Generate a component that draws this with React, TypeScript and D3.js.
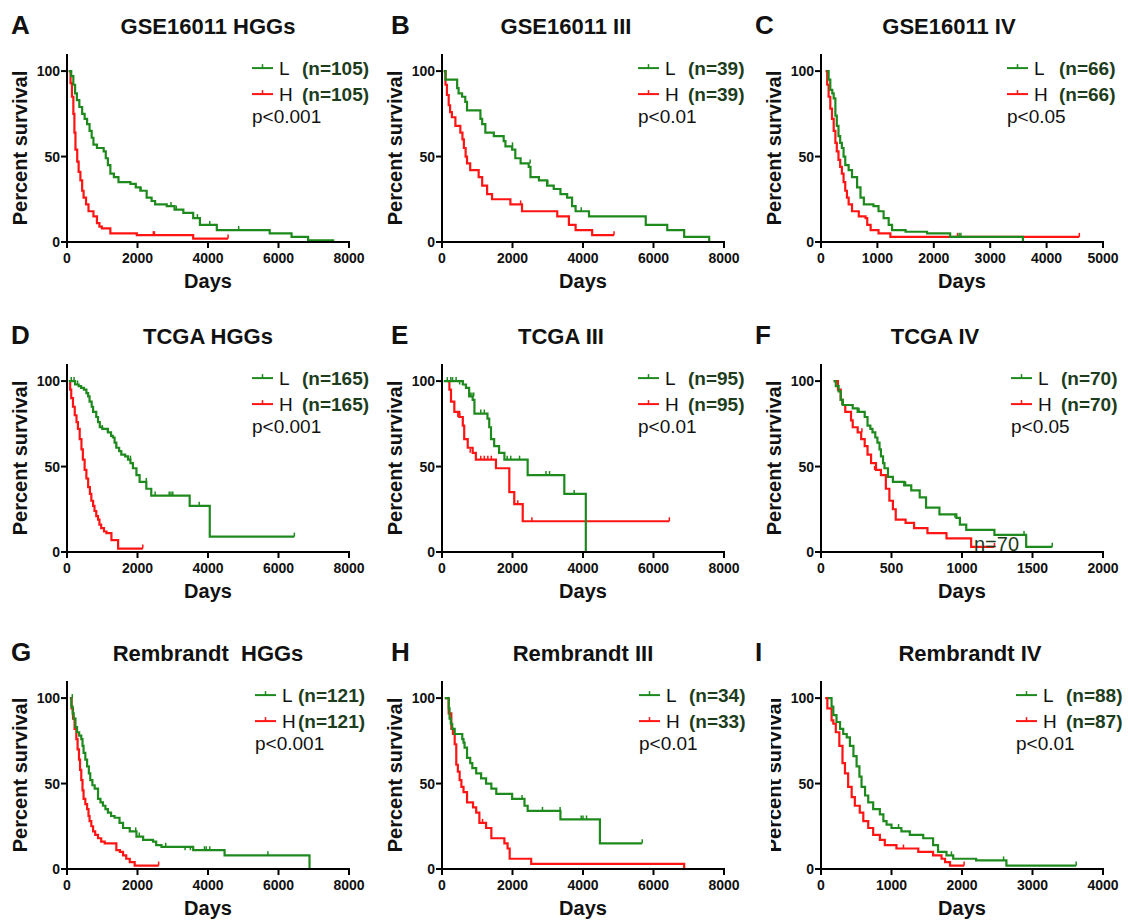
import * as d3 from "d3";

const FONT = "'Liberation Sans', Arial, Helvetica, sans-serif";
const GREEN = "#1e8a1e";
const RED = "#ff1414";
const NCOLOR = "#1d3d1d";

// ---- survival curves: [day, percent survival from that day on] ----
const gseHggLow = [[50,100],[120,97],[180,92],[230,87],[280,83],[350,79],[430,75],[500,72],[570,69],[640,65],[700,61],[750,57],[850,55],[1040,53],[1100,49],[1160,45],[1230,40],[1330,38],[1460,35],[1800,34],[1950,32],[2080,30],[2260,26],[2400,24],[2500,22],[2830,21],[3050,19],[3300,17],[3580,14],[3770,10],[4250,7],[5750,5],[6370,3],[6840,1],[7550,0]];
const gseHggHigh = [[50,100],[100,93],[140,85],[180,75],[210,64],[240,54],[290,47],[330,41],[380,36],[430,30],[470,26],[540,22],[610,18],[750,15],[850,11],[920,9],[990,8],[1230,5],[1980,4],[3580,2],[4570,2]];
const gseHggLowCens = [[1950,32],[2100,30],[2950,21],[3100,19],[3700,14],[4050,10],[4870,7]];
const gseHggHighCens = [[2450,4],[2480,4],[4570,2]];

const gse3Low = [[50,100],[100,95],[430,90],[470,87],[570,85],[660,82],[710,77],[1090,72],[1140,69],[1230,64],[1470,62],[1750,59],[1800,56],[1990,54],[2080,49],[2230,46],[2460,44],[2510,38],[2750,36],[2980,33],[3170,31],[3360,28],[3550,26],[3690,21],[3790,18],[4170,15],[5780,10],[6390,7],[6870,3],[7580,0]];
const gse3High = [[50,100],[100,92],[140,86],[190,80],[230,76],[280,73],[380,68],[520,64],[580,60],[620,55],[670,50],[710,46],[800,42],[1040,38],[1140,33],[1280,28],[1420,25],[1940,22],[2270,18],[3270,15],[3600,10],[3790,7],[4260,4],[4880,4]];
const gse3LowCens = [[2000,56],[2500,46],[3000,34],[3950,18]];
const gse3HighCens = [[2230,22],[4880,4]];

const gse4Low = [[100,100],[135,95],[165,89],[200,87],[225,84],[255,74],[280,68],[310,62],[340,58],[370,55],[400,50],[430,45],[490,42],[550,38],[640,32],[700,26],[760,22],[930,21],[1020,18],[1110,14],[1200,10],[1260,7],[1500,6],[1880,5],[2290,3],[3580,0]];
const gse4High = [[80,100],[110,92],[135,85],[165,78],[195,72],[225,65],[255,58],[280,53],[310,48],[340,44],[370,40],[400,35],[430,30],[460,26],[490,22],[550,18],[670,15],[790,14],[820,10],[880,7],[1020,5],[1230,3],[4580,3]];
const gse4LowCens = [[2450,3],[2480,3]];
const gse4HighCens = [[2420,3],[4580,3]];

const tcgaHggLow = [[50,100],[230,98],[330,97],[400,96],[480,95],[550,93],[600,91],[640,88],[700,85],[740,82],[830,79],[880,76],[930,73],[1000,72],[1160,70],[1250,68],[1300,67],[1350,64],[1400,61],[1480,59],[1540,57],[1650,56],[1730,54],[1800,52],[1870,49],[1970,45],[2060,41],[2250,37],[2390,33],[3480,27],[4050,9],[6450,9]];
const tcgaHggHigh = [[60,100],[90,95],[120,90],[170,85],[220,80],[270,76],[310,72],[360,66],[410,60],[450,54],[500,48],[550,43],[600,38],[650,34],[690,30],[740,27],[780,24],[830,21],[880,19],[920,16],[970,14],[1050,12],[1120,11],[1260,7],[1450,2],[2150,2]];
const tcgaHggLowCens = [[120,100],[200,100],[300,98],[1000,72],[1150,70],[1400,61],[1800,54],[2250,41],[2500,33],[2900,33],[2950,33],[3000,33],[3750,27],[6450,9]];
const tcgaHggHighCens = [[2150,2]];

const tcga3Low = [[50,100],[590,98],[680,96],[770,91],[870,89],[920,81],[1290,78],[1340,73],[1390,66],[1480,62],[1620,58],[1770,54],[2430,45],[3470,34],[4080,0]];
const tcga3High = [[150,100],[210,95],[255,88],[350,82],[490,79],[590,74],[630,66],[730,61],[870,58],[960,54],[1530,49],[1910,35],[2050,28],[2290,18],[6450,18]];
const tcga3LowCens = [[150,100],[250,100],[300,100],[400,100],[500,98],[600,98],[800,91],[850,91],[900,91],[1100,81],[1200,81],[1850,54],[1950,54],[2200,54],[2950,45],[3050,45],[3750,34]];
const tcga3HighCens = [[450,79],[500,79],[800,58],[1100,54],[1200,54],[1300,54],[1400,54],[2150,28],[2550,18],[6450,18]];

const tcga4Low = [[90,100],[105,97],[125,94],[140,89],[155,86],[225,84],[260,82],[310,79],[330,74],[350,72],[365,70],[385,67],[400,64],[415,60],[425,56],[440,52],[450,49],[475,44],[510,41],[590,39],[640,36],[700,32],[745,26],[840,22],[960,20],[985,16],[1030,13],[1230,10],[1455,3],[1640,3]];
const tcga4High = [[90,100],[120,95],[140,89],[155,86],[172,82],[213,77],[225,73],[260,70],[285,66],[310,62],[330,57],[355,52],[390,48],[425,45],[460,37],[485,30],[510,25],[530,19],[600,17],[660,14],[755,11],[890,8],[1065,3],[1230,3]];
const tcga4LowCens = [[150,86],[270,82],[600,39],[950,20],[1440,10],[1640,3]];
const tcga4HighCens = [[150,86],[290,70],[380,48],[1230,3]];

const remHggLow = [[100,100],[125,95],[160,91],[190,88],[240,83],[285,80],[345,78],[405,76],[440,72],[470,68],[520,64],[570,60],[620,56],[660,52],[720,49],[785,47],[880,41],[950,39],[1020,37],[1090,35],[1160,33],[1250,31],[1350,30],[1490,27],[1590,24],[1780,22],[1970,19],[2160,17],[2440,16],[2530,14],[2680,13],[3580,11],[4470,8],[6880,0]];
const remHggHigh = [[80,100],[130,94],[170,88],[215,82],[265,76],[300,70],[340,64],[370,58],[405,52],[440,46],[470,41],[520,38],[570,35],[610,31],[640,28],[690,25],[740,22],[800,20],[880,18],[970,16],[1070,15],[1400,11],[1500,10],[1590,8],[1680,6],[1780,4],[1920,2],[2600,2]];
const remHggLowCens = [[150,100],[1950,22],[2050,19],[2800,13],[3350,11],[3500,11],[3900,11],[3950,11],[4050,11],[5700,8]];
const remHggHighCens = [[2600,2]];

const rem3Low = [[80,100],[190,94],[215,88],[250,85],[290,82],[360,79],[575,76],[610,74],[640,71],[710,65],[800,62],[860,59],[970,56],[1110,53],[1250,50],[1400,47],[1540,44],[1990,41],[2340,37],[2430,34],[3360,29],[4480,15],[5680,15]];
const rem3High = [[80,100],[190,91],[265,82],[310,79],[360,73],[405,61],[450,57],[500,52],[550,48],[610,45],[710,39],[880,36],[970,33],[1060,27],[1250,24],[1400,18],[1770,15],[1860,12],[1920,6],[2530,3],[6870,0]];
const rem3LowCens = [[2270,41],[2850,34],[3350,34],[3950,29],[4000,29],[4100,29],[5680,15]];
const rem3HighCens = [[1150,27]];

const rem4Low = [[100,100],[150,95],[175,90],[220,86],[270,82],[315,79],[365,77],[410,72],[460,66],[505,60],[545,54],[575,48],[625,43],[670,39],[740,35],[835,32],[885,28],[930,26],[1000,24],[1140,22],[1260,20],[1450,18],[1590,14],[1660,10],[1780,8],[1875,6],[2200,5],[2630,2],[3620,2]];
const rem4High = [[60,100],[90,94],[150,87],[175,85],[210,80],[260,72],[305,62],[340,56],[385,48],[435,42],[480,37],[550,33],[600,28],[670,24],[740,20],[835,17],[905,14],[1070,12],[1380,10],[1590,8],[1710,6],[1760,4],[1830,2],[2030,2]];
const rem4LowCens = [[1100,24],[1850,8],[2590,5],[3620,2]];
const rem4HighCens = [[1170,12],[2030,2]];

// ---- panel labels ----
const letters = ["A", "B", "C", "D", "E", "F", "G", "H", "I"];
const titles = ["GSE16011 HGGs", "GSE16011 III", "GSE16011 IV", "TCGA HGGs", "TCGA III", "TCGA IV", "Rembrandt  HGGs", "Rembrandt III", "Rembrandt IV"];
const lowN = ["(n=105)", "(n=39)", "(n=66)", "(n=165)", "(n=95)", "(n=70)", "(n=121)", "(n=34)", "(n=88)"];
const highN = ["(n=105)", "(n=39)", "(n=66)", "(n=165)", "(n=95)", "(n=70)", "(n=121)", "(n=33)", "(n=87)"];
const pValues = ["p<0.001", "p<0.01", "p<0.05", "p<0.001", "p<0.01", "p<0.05", "p<0.001", "p<0.01", "p<0.01"];
const xMaxes = [8000, 8000, 5000, 8000, 8000, 2000, 8000, 8000, 4000];
const xSteps = [2000, 2000, 1000, 2000, 2000, 500, 2000, 2000, 1000];
const yTicks = [0, 50, 100];

const lows = [gseHggLow, gse3Low, gse4Low, tcgaHggLow, tcga3Low, tcga4Low, remHggLow, rem3Low, rem4Low];
const highs = [gseHggHigh, gse3High, gse4High, tcgaHggHigh, tcga3High, tcga4High, remHggHigh, rem3High, rem4High];
const lowCens = [gseHggLowCens, gse3LowCens, gse4LowCens, tcgaHggLowCens, tcga3LowCens, tcga4LowCens, remHggLowCens, rem3LowCens, rem4LowCens];
const highCens = [gseHggHighCens, gse3HighCens, gse4HighCens, tcgaHggHighCens, tcga3HighCens, tcga4HighCens, remHggHighCens, rem3HighCens, rem4HighCens];

// layout
const colLeft = [67, 442, 821];
const rowBottom = [242, 552, 869];
const letterX = [11, 391, 755];
const titleDx = [0, -17, -13, 0, -22, -27, 0, 0, 8];
const legendDx = [185, 196, 186, 185, 196, 190, 188, 197, 195];
const nDx = [50, 50, 52, 50, 50, 50, 43, 50, 50];
const plotW = 282;
const plotH = 188;

function Panel({ i }: { i: number }) {
  const col = i % 3;
  const row = Math.floor(i / 3);
  const left = colLeft[col];
  const bottom = rowBottom[row];

  const x = d3.scaleLinear().domain([0, xMaxes[i]]).range([left, left + plotW]);
  const y = d3.scaleLinear().domain([0, 110]).range([bottom, bottom - plotH]);
  const line = d3
    .line<number[]>()
    .x((d) => x(d[0]))
    .y((d) => y(d[1]))
    .curve(d3.curveStepAfter);

  const xTicks = d3.range(0, xMaxes[i] + 1, xSteps[i]);
  const lx = left + legendDx[i];
  const ly = [y(100) - 3, y(100) + 23];
  const titleY = bottom - 208;

  const curves = [
    { data: highs[i], cens: highCens[i], color: RED },
    { data: lows[i], cens: lowCens[i], color: GREEN },
  ];
  const legend = [
    { key: "L", n: lowN[i], color: GREEN },
    { key: "H", n: highN[i], color: RED },
  ];

  return (
    <g>
      <text x={letterX[col]} y={titleY} fontSize={26} fontWeight="bold" fill="#111">
        {letters[i]}
      </text>
      <text x={left + plotW / 2 + titleDx[i]} y={titleY} textAnchor="middle" fontSize={22} fontWeight="bold" fill="#111" style={{ whiteSpace: "pre" }}>
        {titles[i]}
      </text>

      {curves.map((c, k) => (
        <g key={k}>
          <path d={line(c.data) ?? ""} fill="none" stroke={c.color} strokeWidth={2.2} />
          {c.cens.map((d, j) => (
            <line key={j} x1={x(d[0])} x2={x(d[0])} y1={y(d[1])} y2={y(d[1]) - 4} stroke={c.color} strokeWidth={1.5} />
          ))}
        </g>
      ))}

      {/* axes */}
      <line x1={left} x2={left} y1={y(110)} y2={bottom + 1} stroke="#000" strokeWidth={2} />
      <line x1={left - 1} x2={x(xMaxes[i]) + 1} y1={bottom} y2={bottom} stroke="#000" strokeWidth={2} />
      {xTicks.map((t) => (
        <g key={t}>
          <line x1={x(t)} x2={x(t)} y1={bottom} y2={bottom + 6} stroke="#000" strokeWidth={2} />
          <text x={x(t)} y={bottom + 21} textAnchor="middle" fontSize={14} fontWeight="bold" fill="#111">
            {t}
          </text>
        </g>
      ))}
      {yTicks.map((t) => (
        <g key={t}>
          <line x1={left - 6} x2={left} y1={y(t)} y2={y(t)} stroke="#000" strokeWidth={2} />
          <text x={left - 7} y={y(t)} dy="0.36em" textAnchor="end" fontSize={14} fontWeight="bold" fill="#111">
            {t}
          </text>
        </g>
      ))}

      <g clipPath={i === 8 ? "url(#clipI)" : undefined}>
        <text
          transform={`translate(${left - 40},${bottom - plotH / 2}) rotate(-90)`}
          textAnchor="middle"
          fontSize={20}
          fontWeight="bold"
          fill="#111">
          Percent survival
        </text>
      </g>
      <text x={left + plotW / 2} y={bottom + 46} textAnchor="middle" fontSize={20} fontWeight="bold" fill="#111">
        Days
      </text>

      {/* legend */}
      {legend.map((l, k) => (
        <g key={l.key}>
          <line x1={lx} x2={lx + 21} y1={ly[k]} y2={ly[k]} stroke={l.color} strokeWidth={2} />
          <line x1={lx + 10.5} x2={lx + 10.5} y1={ly[k]} y2={ly[k] - 4} stroke={l.color} strokeWidth={1.5} />
          <text x={lx + 27} y={ly[k] + 7} fontSize={19} fill="#111">
            {l.key}
          </text>
          <text x={lx + nDx[i]} y={ly[k] + 7} fontSize={19} fontWeight="bold" fill={NCOLOR}>
            {l.n}
          </text>
        </g>
      ))}
      <text x={lx} y={y(100) + 52} fontSize={19} fill="#111">
        {pValues[i]}
      </text>

      {i === 5 && (
        <text x={974} y={551} fontSize={20} fill={NCOLOR}>
          n=70
        </text>
      )}
    </g>
  );
}

export default function App() {
  return (
    <svg
      width={1128}
      height={920}
      style={{ position: "absolute", left: 0, top: 0, background: "#fff", fontFamily: FONT }}>
      <defs>
        <clipPath id="clipI">
          <rect x={771} y={600} width={100} height={320} />
        </clipPath>
      </defs>
      {letters.map((_, i) => (
        <Panel key={i} i={i} />
      ))}
    </svg>
  );
}
